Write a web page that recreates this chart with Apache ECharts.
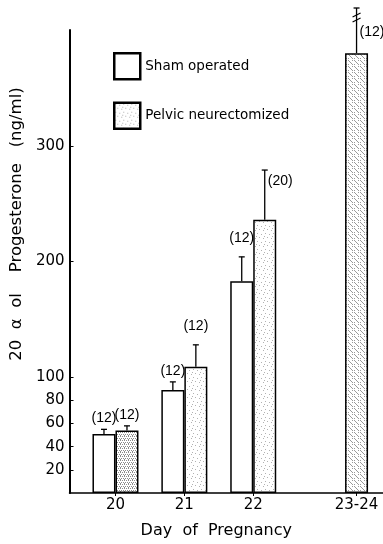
<!DOCTYPE html>
<html>
<head>
<meta charset="utf-8">
<script src="https://cdn.jsdelivr.net/npm/echarts@6/dist/echarts.min.js"></script>
<style>
  html, body { margin: 0; padding: 0; background: #fff; }
  #chart { width: 383px; height: 544px; }
</style>
</head>
<body>
<div id="chart"></div>
<script>
// groups on the x axis (23-24 sits one and a half steps after 22)
let xTicks = [20, 21, 22, 23.5];
let xLabels = ['20', '21', '22', '23-24'];
let yTicks = [20, 40, 60, 80, 100, 200, 300];

// sham operated: days 20, 21, 22
let shamMean = [51, 89, 183];
let shamErr = [4, 7, 21];
let shamN = [12, 12, 12];

// pelvic neurectomized: days 20, 21, 22, 23-24
let neuroMean = [54, 109, 236, 380];
let neuroErr = [4, 19, 43, 40];
let neuroN = [12, 12, 20, 12];

const BAR_W = 23;

// stipple textures for the neurectomized bars
function dotPattern(size, dots, color){
    let c = document.createElement('canvas');
    c.width = size; c.height = size;
    let ctx = c.getContext('2d');
    ctx.fillStyle = '#fff';
    ctx.fillRect(0, 0, size, size);
    ctx.fillStyle = color;
    dots.forEach(d => ctx.fillRect(d[0], d[1], 1, 1));
    return { image: c, repeat: 'repeat' };
}
let lightDots = dotPattern(8, [[1,1],[5,2],[3,5],[7,6],[0,4]], 'rgba(0,0,0,0.3)');
let denseDots = dotPattern(4, [[0,0],[2,0],[1,2],[3,2],[0,3]], 'rgba(0,0,0,0.45)');
let lateDots = dotPattern(6, [[0,0],[1,1],[3,3],[4,4],[4,0],[0,4],[2,2]], 'rgba(0,0,0,0.4)');

let neuroData = neuroMean.slice(0, 3).map((v, i) => {
    let item = { value: [xTicks[i], v] };
    if(i === 0) item.itemStyle = { color: denseDots };
    return item;
});

// error bar rows: x, mean, err, n, side(-1 left bar, 1 right bar, 0 single), label mode(0 top, 1 right)
let errRows = [];
shamMean.forEach((v, i) => errRows.push([xTicks[i], v, shamErr[i], shamN[i], -1, 0]));
neuroMean.forEach((v, i) => errRows.push([xTicks[i], v, neuroErr[i], neuroN[i], i === 3 ? 0 : 1, i >= 2 ? 1 : 0]));

function renderErr(params, api){
    let x = api.value(0), m = api.value(1), e = api.value(2),
        n = api.value(3), side = api.value(4), mode = api.value(5);
    let base = api.coord([x, m]),
        top = api.coord([x, m + e]);
    let cx = base[0] + side * BAR_W / 2;
    let brk = (m + e) > 400;
    let ty = brk ? 8 : top[1];
    let children = [
        { type: 'line', shape: { x1: cx, y1: base[1], x2: cx, y2: ty }, style: { stroke: '#000', lineWidth: 1.3 } },
        { type: 'line', shape: { x1: cx - 3, y1: ty, x2: cx + 3, y2: ty }, style: { stroke: '#000', lineWidth: 1.3 } }
    ];
    if(brk){
        children.push({ type: 'line', shape: { x1: cx - 4, y1: ty + 9, x2: cx + 4, y2: ty + 5 }, style: { stroke: '#000', lineWidth: 1.2 } });
        children.push({ type: 'line', shape: { x1: cx - 4, y1: ty + 14, x2: cx + 4, y2: ty + 10 }, style: { stroke: '#000', lineWidth: 1.2 } });
    }
    let txt = '(' + n + ')';
    let font = '14px "Liberation Sans"';
    if(mode === 0){
        // the tall error bar on day 21 has its count sitting a bit higher
        let lift = e > 15 ? 19 : 11;
        children.push({ type: 'text', style: { text: txt, x: cx, y: ty - lift, align: 'center', verticalAlign: 'middle',
            font: font, fill: '#000' } });
    } else {
        children.push({ type: 'text', style: { text: txt, x: cx + 3, y: ty + (brk ? 24 : 11), align: 'left', verticalAlign: 'middle',
            font: font, fill: '#000' } });
    }
    return { type: 'group', children: children };
}

let chart = echarts.init(document.getElementById('chart'));
let option = {
    animation: false,
    textStyle: { fontFamily: 'DejaVu Sans', color: '#000' },
    legend: {
        data: ['Sham operated', 'Pelvic neurectomized'],
        orient: 'vertical',
        left: 113,
        top: 52,
        padding: 0,
        itemWidth: 26,
        itemHeight: 26,
        itemGap: 21,
        icon: 'rect',
        selectedMode: false,
        itemStyle: { borderColor: '#000', borderWidth: 2.5 },
        textStyle: { fontSize: 13.5, color: '#000', fontFamily: 'DejaVu Sans' }
    },
    grid: { left: 69, right: 0, top: 30, bottom: 48, containLabel: false },
    xAxis: [
        {
            type: 'value',
            min: 19.333,
            max: 23.884,
            name: 'Day  of  Pregnancy',
            nameLocation: 'middle',
            nameGap: 30,
            nameTextStyle: { fontSize: 16, color: '#000', padding: [0, 20, 0, 0] },
            axisLine: { lineStyle: { color: '#000', width: 1.5 } },
            axisTick: { customValues: xTicks, length: 3, lineStyle: { color: '#000' } },
            axisLabel: {
                customValues: xTicks,
                fontSize: 15,
                color: '#000',
                margin: 5,
                formatter: v => xLabels[xTicks.indexOf(v)] || ''
            },
            splitLine: { show: false }
        },
        {
            type: 'value',
            min: 19.333,
            max: 23.884,
            show: false
        }
    ],
    yAxis: {
        type: 'value',
        min: 0,
        max: 400,
        interval: 20,
        name: '20  α  ol    Progesterone   (ng/ml)',
        nameLocation: 'middle',
        nameGap: 44,
        nameTextStyle: { fontSize: 16.5, color: '#000', padding: [0, 0, 0, 75] },
        axisLine: { lineStyle: { color: '#000', width: 2 } },
        axisTick: { customValues: yTicks, inside: true, length: 4, lineStyle: { color: '#000' } },
        axisLabel: { customValues: yTicks, fontSize: 15, color: '#000', margin: 5 },
        splitLine: { show: false }
    },
    series: [
        {
            name: 'Sham operated',
            type: 'bar',
            barWidth: BAR_W,
            barGap: '0%',
            itemStyle: { color: '#fff', borderColor: '#000', borderWidth: 1.5 },
            data: shamMean.map((v, i) => [xTicks[i], v])
        },
        {
            name: 'Pelvic neurectomized',
            type: 'bar',
            barWidth: BAR_W,
            barGap: '0%',
            itemStyle: { color: lightDots, borderColor: '#000', borderWidth: 1.5 },
            data: neuroData
        },
        {
            name: 'Pelvic neurectomized',
            type: 'bar',
            xAxisIndex: 1,
            barWidth: BAR_W,
            itemStyle: { color: lateDots, borderColor: '#000', borderWidth: 1.5 },
            data: [[xTicks[3], neuroMean[3]]]
        },
        {
            type: 'custom',
            clip: false,
            z: 5,
            renderItem: renderErr,
            data: errRows
        }
    ]
};
chart.setOption(option);
</script>
</body>
</html>
